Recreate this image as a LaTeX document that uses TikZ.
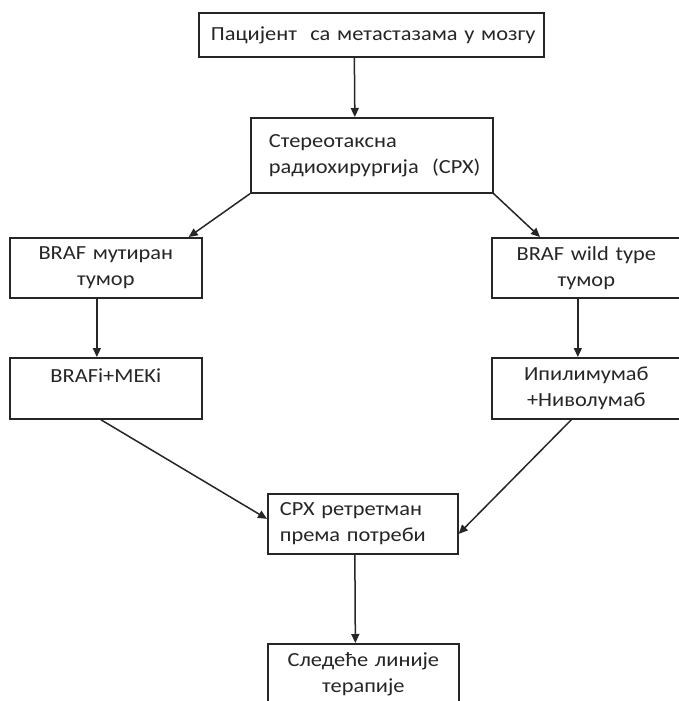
\documentclass[tikz,border=0pt]{standalone}
\usepackage{fontspec}
\setmainfont{Carlito}[FakeStretch=1.12]
\usepackage{xcolor}
\usepackage{tikz}
\usetikzlibrary{arrows.meta,positioning}
\definecolor{ink}{RGB}{38,38,38}
\newcommand{\boxfont}{\fontsize{20}{26}\selectfont}

\tikzset{
  blk/.style={draw=ink,line width=1.7pt,text=ink,inner ysep=0pt,anchor=north west,font=\boxfont},
  arr/.style={-{Triangle[length=9pt,width=8pt]},line width=1.5pt,draw=ink}
}

\begin{document}
\begin{tikzpicture}[x=1pt,y=-1pt]
    \useasboundingbox[fill=white] (0,0) rectangle (678,701);
    % boxes
    \node[blk,text width=321pt,inner xsep=12pt,minimum height=44pt,align=left] (pac) at (198,12)
      {\mbox{Пацијент~ са метастазама у мозгу}};
    \node[blk,text width=206pt,inner xsep=18pt,minimum height=75pt,align=left] (stereo) at (250,117)
      {Стереотаксна\\\mbox{радиохирургија~ (СРХ)}};
    \node[blk,text width=172pt,inner xsep=10pt,minimum height=60pt,align=center] (mut) at (9,237)
      {BRAF мутиран\\тумор};
    \node[blk,text width=169pt,inner xsep=10pt,minimum height=60pt,align=center] (wild) at (491,237)
      {BRAF wild type\\тумор};
    \node[blk,text width=172pt,inner xsep=10pt,minimum height=61pt,align=center] (brafi) at (9,357)
      {BRAFi+MEKi\\~};
    \node[blk,text width=169pt,inner xsep=10pt,minimum height=61pt,align=center] (ipili) at (491,357)
      {Ипилимумаб\\+Ниволумаб};
    \node[blk,text width=166pt,inner xsep=12pt,minimum height=60pt,align=left] (retr) at (267,493)
      {СРХ ретретман\\према потреби};
    \node[blk,text width=167pt,inner xsep=12pt,minimum height=60pt,align=center] (next) at (267,643)
      {Следеће линије\\терапије};
    % connectors
    \draw[arr] ([xshift=-17pt]pac.south) -- ([xshift=-17pt]stereo.north);
    \draw[arr] (stereo.south west) -- ([xshift=-14pt]mut.north east);
    \draw[arr] (stereo.south east) -- ([xshift=49pt]wild.north west);
    \draw[arr] ([xshift=-9pt]mut.south) -- ([xshift=-9pt]brafi.north);
    \draw[arr] ([xshift=-8.5pt]wild.south) -- ([xshift=-8.5pt]ipili.north);
    \draw[arr] ([xshift=-5pt]brafi.south) -- ([yshift=5pt]retr.west);
    \draw[arr] ([xshift=-15pt]ipili.south) -- ([yshift=-10pt]retr.east);
    \draw[arr] ([xshift=-8pt]retr.south) -- ([xshift=-8pt]next.north);
\end{tikzpicture}
\end{document}
